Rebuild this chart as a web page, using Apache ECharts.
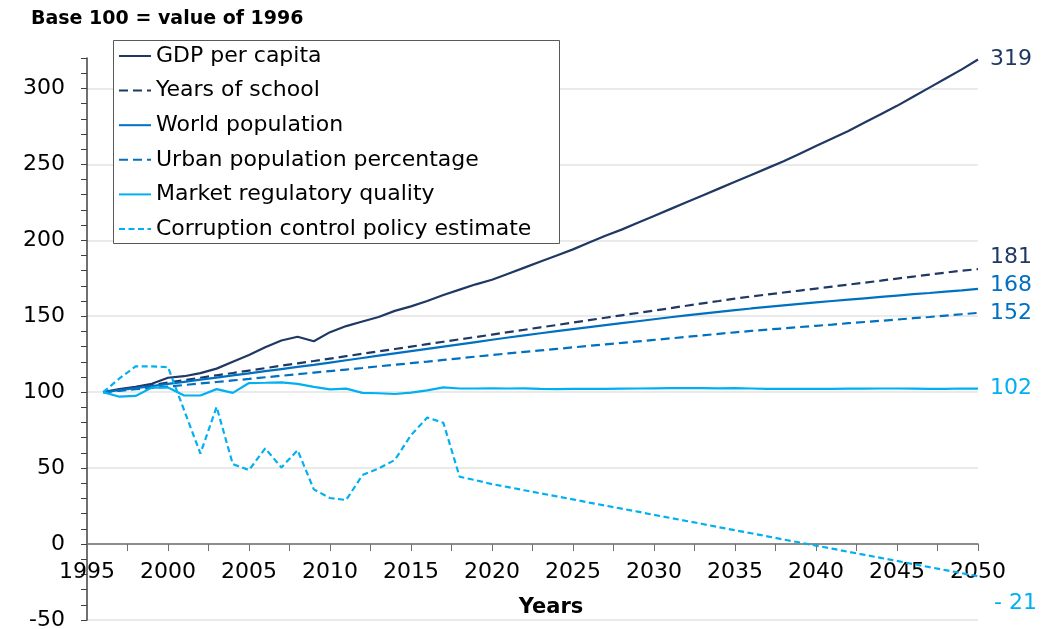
<!DOCTYPE html>
<html>
<head>
<meta charset="utf-8">
<title>Base 100 = value of 1996</title>
<script src="https://cdn.jsdelivr.net/npm/echarts@6/dist/echarts.min.js"></script>
<style>
  html, body { margin: 0; padding: 0; background: #fff; }
  #chart { width: 1048px; height: 629px; }
</style>
</head>
<body>
<div id="chart"></div>
<script>
// years 1996 .. 2050, one value per year in every series
const years = [
  1996, 1997, 1998, 1999, 2000, 2001, 2002, 2003, 2004, 2005,
  2006, 2007, 2008, 2009, 2010, 2011, 2012, 2013, 2014, 2015,
  2016, 2017, 2018, 2019, 2020, 2021, 2022, 2023, 2024, 2025,
  2026, 2027, 2028, 2029, 2030, 2031, 2032, 2033, 2034, 2035,
  2036, 2037, 2038, 2039, 2040, 2041, 2042, 2043, 2044, 2045,
  2046, 2047, 2048, 2049, 2050,
];

const gdpPerCapita = [
  100, 102, 103.5, 105.5, 109.5, 110.5, 112.5, 115.5, 120, 124.5,
  129.5, 134, 136.5, 133.5, 139.5, 143.5, 146.5, 149.5, 153.5, 156.5,
  160, 164, 167.5, 171, 174, 178, 182, 186, 190, 194,
  198.5, 203, 207, 211.5, 216, 220.5, 225, 229.5, 234, 238.5,
  243, 247.5, 252, 257, 262, 267, 272, 277.5, 283, 288.5,
  294.5, 300.5, 306.5, 312.5, 319,
];

const yearsOfSchool = [
  100, 101.6, 103.2, 104.7, 106.3, 107.9, 109.5, 111.1, 112.6, 114.2,
  115.8, 117.4, 119, 120.5, 122.1, 123.7, 125.3, 126.9, 128.4, 130,
  131.6, 133.2, 134.8, 136.3, 137.9, 139.5, 141.1, 142.7, 144.2, 145.8,
  147.4, 149, 150.6, 152.1, 153.7, 155.3, 156.9, 158.5, 160, 161.6,
  163, 164.3, 165.6, 166.9, 168.2, 169.5, 170.8, 172.1, 173.4, 174.8,
  176.1, 177.4, 178.7, 180, 181,
];

const worldPopulation = [
  100, 101.3, 102.6, 104, 105.4, 106.8, 108.2, 109.6, 111, 112.4,
  113.8, 115.2, 116.6, 118, 119.5, 121, 122.5, 124, 125.5, 127,
  128.5, 130, 131.5, 133, 134.5, 136, 137.4, 138.8, 140.2, 141.5,
  142.8, 144.1, 145.4, 146.7, 148, 149.3, 150.5, 151.7, 152.9, 154,
  155.1, 156.1, 157.1, 158.1, 159.1, 160, 160.9, 161.8, 162.7, 163.6,
  164.5, 165.3, 166.2, 167, 168,
];

const urbanPopulation = [
  100, 100.9, 101.9, 102.8, 103.7, 104.7, 105.7, 106.7, 107.7, 108.7,
  109.8, 110.8, 111.8, 112.9, 113.9, 114.9, 115.9, 117, 118, 119.1,
  120.1, 121.2, 122.3, 123.4, 124.5, 125.5, 126.5, 127.5, 128.5, 129.5,
  130.5, 131.5, 132.4, 133.4, 134.4, 135.4, 136.4, 137.4, 138.4, 139.4,
  140.3, 141.2, 142, 142.9, 143.7, 144.5, 145.4, 146.2, 147, 147.8,
  148.7, 149.5, 150.4, 151.3, 152.2,
];

const marketQuality = [
  100, 97, 97.5, 103, 103, 97.8, 97.8, 102, 99.5, 106,
  106.2, 106.5, 105.5, 103.5, 101.8, 102.3, 99.5, 99.3, 98.8, 99.7,
  101.2, 103.2, 102.4, 102.4, 102.5, 102.4, 102.5, 102.2, 102, 102.1,
  102.1, 102.2, 102.3, 102.4, 102.5, 102.6, 102.6, 102.6, 102.5, 102.6,
  102.4, 102.2, 102.1, 102.1, 102.2, 102.2, 102.3, 102.3, 102.4, 102.4,
  102.3, 102.2, 102.2, 102.4, 102.3,
];

const corruptionControl = [
  100, 109, 117, 117, 116.5, 88, 59.6, 90.3, 52.6, 48.7,
  63, 50.4, 61.8, 36, 30.3, 29, 45.4, 49.8, 55.3, 71.7,
  83.3, 79.8, 44.3, 42, 39.5, 37.5, 35.4, 33.4, 31.4, 29.4,
  27.3, 25.3, 23.3, 21.3, 19.2, 17.2, 15.2, 13.2, 11.1, 9.1,
  7.1, 5.1, 3, 1, -1, -3, -5.1, -7.1, -9.1, -11.1,
  -13.2, -15.2, -17.2, -19.2, -21.2,
];

const NAVY = '#1F3864';
const BLUE = '#0070C0';
const SKY = '#00B0F0';
const AXIS_GREY = '#6f6f6f';
const FONT = '"DejaVu Sans", sans-serif';

const X_MIN = 1995;
const X_MAX = 2050;
const Y_MIN = -50;
const Y_MAX = 320;
const GRID = { left: 87, right: 70, top: 58, bottom: 9 };
const plotHeight = 629 - GRID.top - GRID.bottom;
// year labels sit under the zero line: lift them up from the bottom edge of the grid
const zeroOffset = -(0 - Y_MIN) / (Y_MAX - Y_MIN) * plotHeight;

const chart = echarts.init(document.getElementById('chart'));

const pairs = (values) => years.map((y, i) => [y, values[i]]);

const endLabel = (color, offset, formatter) => ({
  show: true,
  color,
  fontSize: 22,
  fontFamily: FONT,
  distance: 12,
  offset,
  formatter: formatter || ((p) => Math.round(p.value[1])),
});

const line = (name, values, color, dash, label) => ({
  name,
  type: 'line',
  data: pairs(values),
  symbol: 'none',
  lineStyle: { color, width: 2.2, type: dash || 'solid' },
  itemStyle: { color },
  endLabel: label,
});

const option = {
  animation: false,
  backgroundColor: '#fff',
  title: {
    text: 'Base 100 = value of 1996',
    left: 26,
    top: 5,
    textStyle: { fontFamily: FONT, fontWeight: 'bold', fontSize: 19, color: '#000' },
  },
  legend: {
    orient: 'vertical',
    left: 118,
    top: 44,
    padding: 0,
    itemWidth: 32,
    itemHeight: 14,
    itemGap: 10.6,
    itemStyle: { opacity: 0 },
    textStyle: { fontFamily: FONT, fontSize: 22, lineHeight: 24, color: '#000' },
    data: [
      'GDP per capita',
      'Years of school',
      'World population',
      'Urban population percentage',
      'Market regulatory quality',
      'Corruption control policy estimate',
    ],
  },
  graphic: [
    {
      type: 'rect',
      z: 1,
      shape: { x: 113.5, y: 40.5, width: 446, height: 203 },
      style: { fill: '#fff', stroke: '#595959', lineWidth: 1 },
    },
    {
      type: 'text',
      x: 551,
      y: 608,
      style: {
        text: 'Years',
        fontFamily: FONT,
        fontWeight: 'bold',
        fontSize: 21,
        fill: '#000',
        align: 'center',
        verticalAlign: 'middle',
      },
    },
  ],
  grid: { ...GRID, outerBoundsMode: 'none' },
  xAxis: [
    {
      // axis line and ticks on the zero line
      type: 'value',
      min: X_MIN,
      max: X_MAX,
      interval: 2.5,
      axisLine: { onZero: true, lineStyle: { color: AXIS_GREY, width: 1.5 } },
      axisTick: { show: true, length: 7, lineStyle: { color: AXIS_GREY } },
      axisLabel: { show: true, formatter: () => '' },
      splitLine: { show: false },
    },
    {
      // year labels only
      type: 'value',
      min: X_MIN,
      max: X_MAX,
      interval: 5,
      position: 'bottom',
      offset: zeroOffset,
      axisLine: { show: false, onZero: false },
      axisTick: { show: false },
      axisLabel: {
        margin: 17,
        fontFamily: FONT,
        fontSize: 22,
        color: '#000',
        formatter: (v) => String(v),
      },
      splitLine: { show: false },
    },
  ],
  yAxis: {
    type: 'value',
    min: Y_MIN,
    max: Y_MAX,
    interval: 10,
    axisLine: { show: true, lineStyle: { color: '#404040', width: 1.5 } },
    axisTick: { show: true, length: 6, lineStyle: { color: '#404040' } },
    axisLabel: {
      margin: 22,
      fontFamily: FONT,
      fontSize: 22,
      color: '#000',
      formatter: (v) => (v % 50 === 0 ? String(v) : ''),
    },
    splitLine: {
      show: true,
      lineStyle: {
        width: 1.5,
        color: ['#e3e3e3', 'rgba(0,0,0,0)', 'rgba(0,0,0,0)', 'rgba(0,0,0,0)', 'rgba(0,0,0,0)'],
      },
    },
  },
  series: [
    line('GDP per capita', gdpPerCapita, NAVY, 'solid', endLabel(NAVY, [0, 0])),
    line('Years of school', yearsOfSchool, NAVY, [9, 5], endLabel(NAVY, [0, -12])),
    line('World population', worldPopulation, BLUE, 'solid', endLabel(BLUE, [0, -4])),
    line('Urban population percentage', urbanPopulation, BLUE, [9, 5], endLabel(BLUE, [0, 0])),
    line('Market regulatory quality', marketQuality, SKY, 'solid', endLabel(SKY, [0, 0])),
    line('Corruption control policy estimate', corruptionControl, SKY, [6, 3.5],
      endLabel(SKY, [4, 27], (p) => '- ' + Math.abs(Math.round(p.value[1])))),
  ],
};

chart.setOption(option);
</script>
</body>
</html>
